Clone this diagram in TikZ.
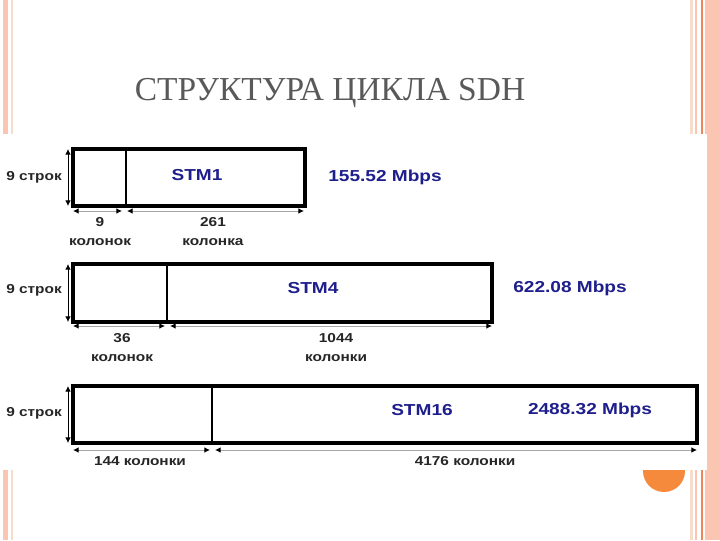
\documentclass[tikz,border=0pt]{standalone}
\usepackage{fontspec}
\setmainfont{Liberation Serif}
\newfontfamily\arialfont{Liberation Sans}
\usetikzlibrary{arrows.meta}
\definecolor{slidepink}{HTML}{FBC6B1}
\definecolor{slidepale}{HTML}{F6DCCB}
\definecolor{slideorange}{HTML}{EE8458}
\definecolor{dotorange}{HTML}{F58A3C}
\definecolor{ratenavy}{HTML}{1E1E8C}
\definecolor{titlegray}{HTML}{595959}
\newcommand\wide[1]{\scalebox{1.2}[1]{#1}}
\newcommand\semi[1]{\scalebox{1.19}[1]{#1}}

\begin{document}
\begin{tikzpicture}[x=0.025cm,y=-0.025cm,
  frame/.style={draw, line width=2.4pt},
  divider/.style={draw, line width=1.8pt},
  dimtip/.tip={Latex[length=4pt,width=4pt,color=black]},
  dim/.style={draw=gray!70, line width=0.7pt, dimtip-dimtip},
  rowdim/.style={draw=black, line width=0.6pt, dimtip-dimtip},
  blk/.style={font=\arialfont\bfseries\fontsize{9.2}{13.5}\selectfont, text=black!85, align=center, inner sep=0pt},
  blu/.style={font=\arialfont\bfseries\fontsize{11.3}{13}\selectfont, text=ratenavy, inner sep=0pt}]

  % slide background
  \useasboundingbox (0,0) rectangle (720,540);
  \fill[white] (0,0) rectangle (720,540);
  \fill[slidepink] (3,0) rectangle (8,540);
  \fill[slidepale] (11,0) rectangle (12.5,540);
  \fill[slidepale] (690,0) rectangle (693,540);
  \fill[slidepink] (695,0) rectangle (697,540);
  \fill[slideorange] (701,0) rectangle (702.5,540);
  \fill[slidepink] (705,0) rectangle (720,540);
  \fill[dotorange] (664,471) circle (21);

  \node[font=\fontsize{23.8}{28}\selectfont, text=titlegray] (title) at (330,93) {СТРУКТУРА ЦИКЛА SDH};

  % picture area
  \fill[white] (0,134) rectangle (707,470);

  % STM1
  \coordinate (a1) at (73,149); \coordinate (b1) at (305,206); \coordinate (d1) at (126,149);
  \draw[frame] (a1) rectangle (b1);
  \draw[divider] (d1) -- (d1 |- b1);
  \coordinate (v1t) at (68,149); \coordinate (v1b) at (68,206);
  \draw[rowdim] (v1t) -- (v1b);
  \coordinate (h1a) at (73,211); \coordinate (h1b) at (122,211);
  \coordinate (h1c) at (127,211); \coordinate (h1d) at (304,211);
  \draw[dim] (h1a) -- (h1b);
  \draw[dim] (h1c) -- (h1d);
  \node[blk] (rows1) at (34,177) {\semi{9 строк}};
  \node[blk] (colA1) at (100,232) {\semi{9}\\\semi{колонок}};
  \node[blk] (colB1) at (213,232) {\semi{261}\\\semi{колонка}};
  \node[blu] (stm1) at (197,175) {\wide{STM1}};
  \node[blu] (rate1) at (385,177) {\wide{155.52 Mbps}};

  % STM4
  \coordinate (a4) at (73,264); \coordinate (b4) at (492,322); \coordinate (d4) at (167,264);
  \draw[frame] (a4) rectangle (b4);
  \draw[divider] (d4) -- (d4 |- b4);
  \coordinate (v4t) at (68,264); \coordinate (v4b) at (68,322);
  \draw[rowdim] (v4t) -- (v4b);
  \coordinate (h4a) at (73,326); \coordinate (h4b) at (165,326);
  \coordinate (h4c) at (170,326); \coordinate (h4d) at (492,326);
  \draw[dim] (h4a) -- (h4b);
  \draw[dim] (h4c) -- (h4d);
  \node[blk] (rows4) at (34,290) {\semi{9 строк}};
  \node[blk] (colA4) at (122,348) {\semi{36}\\\semi{колонок}};
  \node[blk] (colB4) at (336,348) {\semi{1044}\\\semi{колонки}};
  \node[blu] (stm4) at (313,288) {\wide{STM4}};
  \node[blu] (rate4) at (570,288) {\wide{622.08 Mbps}};

  % STM16
  \coordinate (a16) at (73,386); \coordinate (b16) at (697,443); \coordinate (d16) at (212,386);
  \draw[frame] (a16) rectangle (b16);
  \draw[divider] (d16) -- (d16 |- b16);
  \coordinate (v16t) at (68,386); \coordinate (v16b) at (68,443);
  \draw[rowdim] (v16t) -- (v16b);
  \coordinate (h16a) at (73,450); \coordinate (h16b) at (210,450);
  \coordinate (h16c) at (215,450); \coordinate (h16d) at (697,450);
  \draw[dim] (h16a) -- (h16b);
  \draw[dim] (h16c) -- (h16d);
  \node[blk] (rows16) at (34,413) {\semi{9 строк}};
  \node[blk] (colA16) at (140,461) {\semi{144 колонки}};
  \node[blk] (colB16) at (465,461) {\semi{4176 колонки}};
  \node[blu] (stm16) at (422,410) {\wide{STM16}};
  \node[blu] (rate16) at (590,410) {\wide{2488.32 Mbps}};

\end{tikzpicture}
\end{document}
